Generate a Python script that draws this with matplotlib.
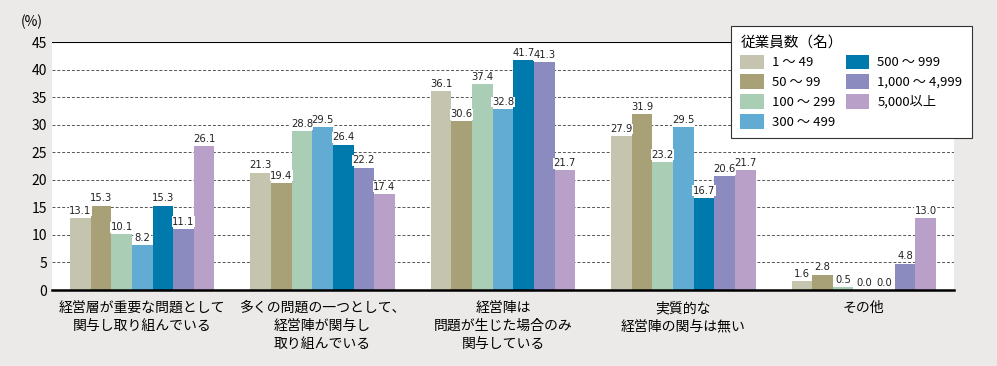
import matplotlib.pyplot as plt
import numpy as np

plt.rcParams['font.family'] = ['Noto Sans CJK JP', 'DejaVu Sans']

categories = ['経営層が重要な問題として\n関与し取り組んでいる',
              '多くの問題の一つとして、\n経営陣が関与し\n取り組んでいる',
              '経営陣は\n問題が生じた場合のみ\n関与している',
              '実質的な\n経営陣の関与は無い',
              'その他']
series_names = ['1 ～ 49', '50 ～ 99', '100 ～ 299', '300 ～ 499',
                '500 ～ 999', '1,000 ～ 4,999', '5,000以上']
values = [
    [13.1, 21.3, 36.1, 27.9, 1.6],
    [15.3, 19.4, 30.6, 31.9, 2.8],
    [10.1, 28.8, 37.4, 23.2, 0.5],
    [8.2, 29.5, 32.8, 29.5, 0.0],
    [15.3, 26.4, 41.7, 16.7, 0.0],
    [11.1, 22.2, 41.3, 20.6, 4.8],
    [26.1, 17.4, 21.7, 21.7, 13.0],
]
colors = ['#c5c4ae', '#a8a077', '#a9cdb5', '#62acd3', '#0079ac', '#8b8bc0', '#b8a0c8']

bg = '#ebeae8'
fig = plt.figure(figsize=(9.97, 3.66), dpi=100, facecolor=bg)
ax = fig.add_axes([52 / 997, 76 / 366, 902 / 997, 248 / 366])
ax.set_facecolor('white')

x = np.arange(len(categories))
n = len(series_names)
w = 0.8 / n
lab = dict(ha='center', va='bottom', fontsize=8, family='DejaVu Sans', fontstretch='condensed')
for i, (name, vals) in enumerate(zip(series_names, values)):
    pos = x + (i - (n - 1) / 2) * w
    ax.bar(pos, vals, width=w, color=colors[i], label=name, zorder=3)
    for px, v in zip(pos, vals):
        # white patch behind the label (hides the grid), text drawn on top
        ax.text(px, v + 0.4, f'{v:.1f}', color='white', zorder=3.5,
                bbox=dict(facecolor='white', edgecolor='none', pad=0.3), **lab)
        ax.text(px, v + 0.4, f'{v:.1f}', color='#222222', zorder=4, **lab)

ax.set_xlim(-0.5, len(categories) - 0.5)
ax.set_ylim(0, 45)
ax.set_yticks(np.arange(0, 46, 5))
ax.yaxis.grid(True, linestyle=(0, (3, 2)), color='#555555', linewidth=0.7, zorder=1)
ax.axhline(45, color='black', linewidth=1.5, zorder=2)
ax.set_xticks(x)
ax.set_xticklabels(categories, fontsize=10, linespacing=1.35)
ax.tick_params(axis='both', length=0, labelsize=10)
ax.tick_params(axis='x', pad=8)
for s in ['top', 'right', 'left']:
    ax.spines[s].set_visible(False)
ax.spines['bottom'].set_linewidth(1.8)
ax.spines['bottom'].set_zorder(5)

fig.text(32 / 997, 1 - 22 / 366, '(%)', fontsize=10, ha='center', va='center')

leg = ax.legend(ncol=2, title='従業員数（名）', loc='upper left',
                bbox_to_anchor=(731 / 997, 1 - 26 / 366), bbox_transform=fig.transFigure,
                fontsize=9.5, title_fontsize=10.5, fancybox=False, framealpha=1,
                edgecolor='#333333', handlelength=1.8, handleheight=1.3,
                handletextpad=0.6, columnspacing=0.8, labelspacing=0.4,
                borderpad=0.7, borderaxespad=0)
leg._legend_box.align = 'left'
leg.get_frame().set_linewidth(0.8)
leg.set_zorder(10)

fig.savefig('out.png', dpi=100, facecolor=bg)
